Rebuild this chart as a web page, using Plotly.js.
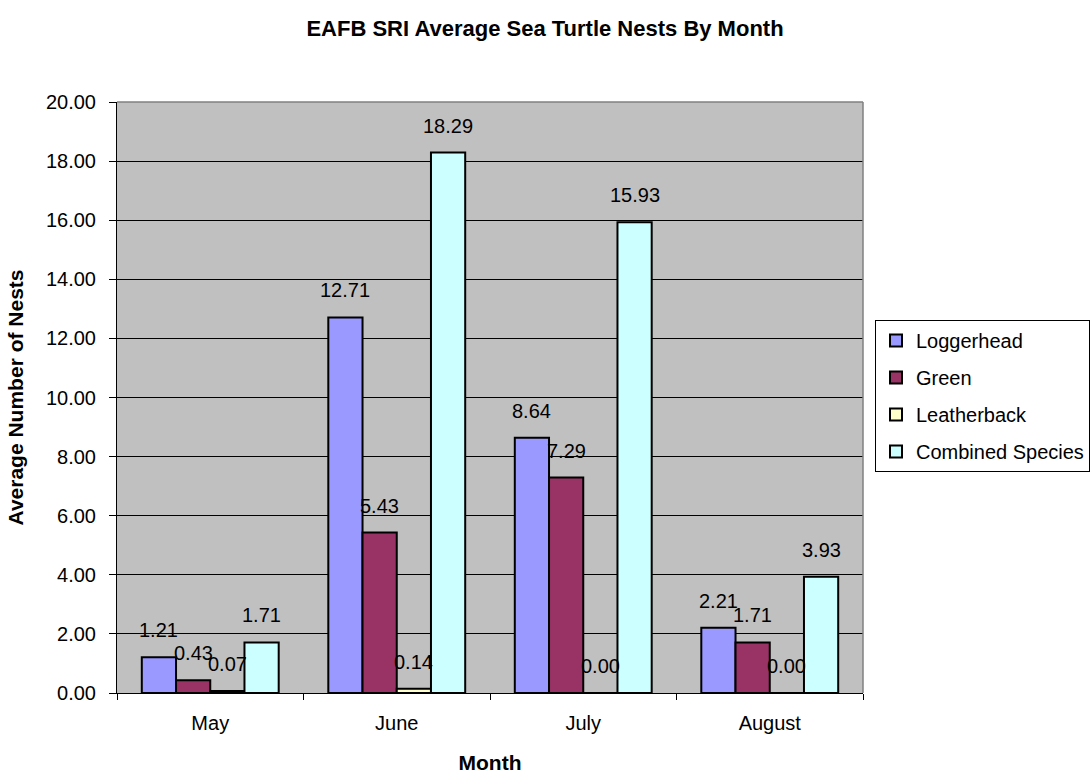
<!DOCTYPE html>
<html>
<head>
<meta charset="utf-8">
<script src="https://cdn.plot.ly/plotly-3.0.1.min.js"></script>
<style>html,body{margin:0;padding:0;background:#fff;}#chart{width:1090px;height:774px;}</style>
</head>
<body>
<div id="chart"></div>
<script>
var months = ["May", "June", "July", "August"];
var seriesNames = ["Loggerhead", "Green", "Leatherback", "Combined Species"];
var loggerhead = [1.21, 12.71, 8.64, 2.21];
var green = [0.43, 5.43, 7.29, 1.71];
var leatherback = [0.07, 0.14, 0.00, 0.00];
var combined = [1.71, 18.29, 15.93, 3.93];
var colors = ["#9999FF", "#993366", "#FFFFCC", "#CCFFFF"];
var yTicks = [0, 2, 4, 6, 8, 10, 12, 14, 16, 18, 20];

var allSeries = [loggerhead, green, leatherback, combined];
var bargap = 0.266;
var font = "Arial, 'Liberation Sans', sans-serif";

var traces = allSeries.map(function (vals, i) {
  return {
    type: "bar",
    name: seriesNames[i],
    x: months,
    y: vals,
    legendgroup: "g" + i,
    marker: { color: colors[i], line: { color: "#000000", width: 2 } },
    hoverinfo: "x+y+name"
  };
});

var annotations = [];
var w = (1 - bargap) / 4;
allSeries.forEach(function (vals, i) {
  vals.forEach(function (v, j) {
    annotations.push({
      x: j + (i - 1.5) * w,
      y: v,
      xref: "x",
      yref: "y",
      text: v.toFixed(2),
      showarrow: false,
      yanchor: "middle",
      xanchor: "center",
      yshift: 27,
      font: { family: font, size: 20, color: "#000000" }
    });
  });
});

var layout = {
  width: 1090,
  height: 774,
  margin: { l: 117, r: 227, t: 102, b: 81, pad: 0 },
  paper_bgcolor: "#FFFFFF",
  plot_bgcolor: "#C0C0C0",
  barmode: "group",
  bargap: bargap,
  bargroupgap: 0,
  title: {
    text: "<b>EAFB SRI Average Sea Turtle Nests By Month</b>",
    font: { family: font, size: 22, color: "#000000" },
    x: 0.5,
    xanchor: "center",
    y: 1 - 28 / 774,
    yanchor: "middle"
  },
  xaxis: {
    type: "category",
    tickvals: months,
    ticktext: months,
    tickson: "boundaries",
    ticks: "outside",
    ticklen: 6,
    tickcolor: "#000000",
    ticklabelstandoff: 12,
    showline: true,
    linecolor: "#000000",
    linewidth: 1,
    showgrid: false,
    zeroline: false,
    tickfont: { family: font, size: 20, color: "#000000" },
    title: { text: "<b>Month</b>", font: { family: font, size: 21, color: "#000000" }, standoff: 28 },
    automargin: false
  },
  yaxis: {
    range: [0, 20],
    tickvals: yTicks,
    ticktext: yTicks.map(function (t) { return t.toFixed(2); }),
    ticks: "outside",
    ticklen: 7,
    tickcolor: "#000000",
    ticklabelstandoff: 9,
    showline: true,
    linecolor: "#000000",
    linewidth: 1,
    showgrid: true,
    gridcolor: "#000000",
    gridwidth: 1,
    zeroline: false,
    tickfont: { family: font, size: 20, color: "#000000" },
    title: { text: "<b>Average Number of Nests</b>", font: { family: font, size: 21, color: "#000000" }, standoff: 16 },
    automargin: false
  },
  legend: {
    xref: "container",
    yref: "container",
    x: 875 / 1090,
    xanchor: "left",
    y: 1 - 396 / 774,
    yanchor: "middle",
    bgcolor: "#FFFFFF",
    bordercolor: "#000000",
    borderwidth: 1,
    traceorder: "grouped",
    tracegroupgap: 8,
    font: { family: font, size: 20, color: "#000000" }
  },
  annotations: annotations,
  shapes: [
    { type: "line", xref: "paper", yref: "paper", x0: 0, x1: 1, y0: 1, y1: 1, line: { color: "#808080", width: 1.5 } },
    { type: "line", xref: "paper", yref: "paper", x0: 1, x1: 1, y0: 0, y1: 1, line: { color: "#808080", width: 1.5 } }
  ],
  showlegend: true
};

Plotly.newPlot("chart", traces, layout, { displayModeBar: false, staticPlot: true });
</script>
</body>
</html>
